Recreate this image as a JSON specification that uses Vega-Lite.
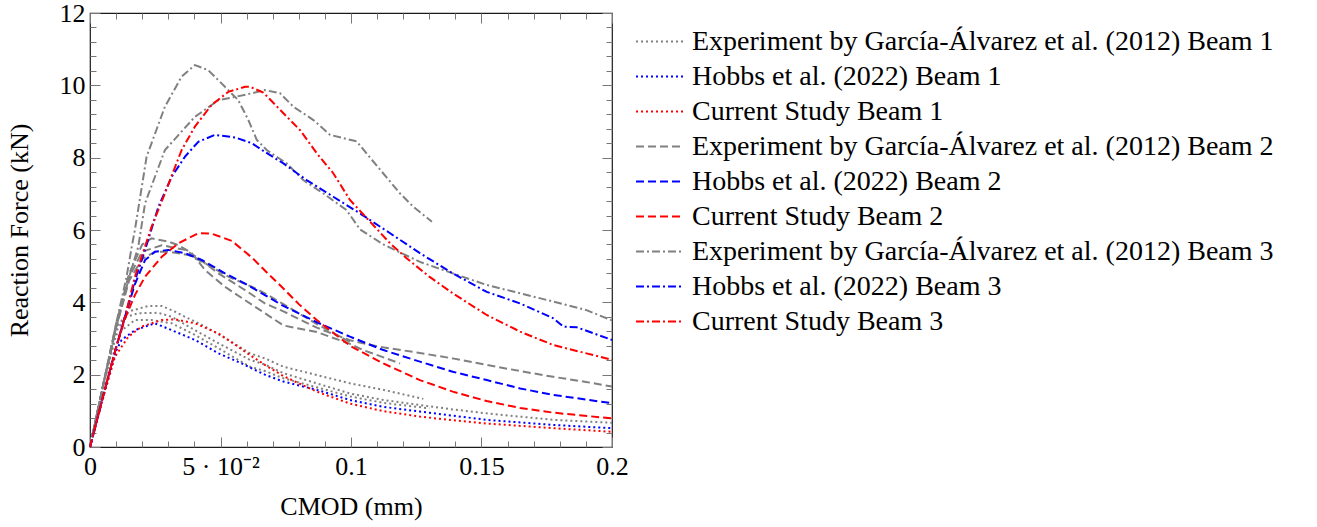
{
  "$schema": "https://vega.github.io/schema/vega-lite/v6.json",
  "width": 522,
  "height": 434,
  "autosize": {"type": "none"},
  "padding": {"left": 90, "top": 13, "right": 705, "bottom": 80},
  "background": "white",
  "config": {
    "view": {"stroke": "#1a1a1a", "strokeWidth": 1.2},
    "font": "Liberation Serif",
    "axis": {
      "labelFont": "Liberation Serif",
      "titleFont": "Liberation Serif",
      "labelFontSize": 26,
      "titleFontSize": 26,
      "titleFontWeight": "normal",
      "labelColor": "#000",
      "titleColor": "#000",
      "domain": false,
      "grid": false,
      "tickColor": "#777",
      "tickWidth": 1,
      "labelOverlap": false,
      "labelFlush": false
    },
    "legend": {
      "labelFont": "Liberation Serif",
      "labelFontSize": 28,
      "labelColor": "#000",
      "symbolType": "stroke",
      "symbolSize": 2304,
      "symbolStrokeWidth": 2,
      "labelOffset": 7,
      "rowPadding": 0,
      "clipHeight": 35,
      "labelLimit": 800
    }
  },
  "data": {
    "values": [
      {"k":"E1a","s":"E1","x":0,"y":0},{"k":"E1a","s":"E1","x":0.005,"y":1.7},{"k":"E1a","s":"E1","x":0.01,"y":3.3},{"k":"E1a","s":"E1","x":0.015,"y":3.75},{"k":"E1a","s":"E1","x":0.0223,"y":3.9},{"k":"E1a","s":"E1","x":0.0275,"y":3.9},{"k":"E1a","s":"E1","x":0.0326,"y":3.74},{"k":"E1a","s":"E1","x":0.0364,"y":3.6},{"k":"E1a","s":"E1","x":0.0441,"y":3.33},{"k":"E1a","s":"E1","x":0.053,"y":2.96},{"k":"E1a","s":"E1","x":0.0613,"y":2.59},{"k":"E1a","s":"E1","x":0.067,"y":2.45},{"k":"E1a","s":"E1","x":0.0741,"y":2.22},{"k":"E1a","s":"E1","x":0.0869,"y":1.99},{"k":"E1a","s":"E1","x":0.0996,"y":1.76},{"k":"E1a","s":"E1","x":0.1124,"y":1.58},{"k":"E1a","s":"E1","x":0.1277,"y":1.33},
      {"k":"E1b","s":"E1","x":0,"y":0},{"k":"E1b","s":"E1","x":0.005,"y":1.7},{"k":"E1b","s":"E1","x":0.01,"y":3.2},{"k":"E1b","s":"E1","x":0.014,"y":3.6},{"k":"E1b","s":"E1","x":0.0185,"y":3.7},{"k":"E1b","s":"E1","x":0.0262,"y":3.71},{"k":"E1b","s":"E1","x":0.0313,"y":3.6},{"k":"E1b","s":"E1","x":0.0402,"y":3.23},{"k":"E1b","s":"E1","x":0.0492,"y":2.87},{"k":"E1b","s":"E1","x":0.0613,"y":2.41},{"k":"E1b","s":"E1","x":0.067,"y":2.28},{"k":"E1b","s":"E1","x":0.0741,"y":2.04},{"k":"E1b","s":"E1","x":0.0869,"y":1.76},{"k":"E1b","s":"E1","x":0.0996,"y":1.48},{"k":"E1b","s":"E1","x":0.1124,"y":1.3},{"k":"E1b","s":"E1","x":0.1264,"y":1.16},{"k":"E1b","s":"E1","x":0.139,"y":1.04},{"k":"E1b","s":"E1","x":0.152,"y":0.93},{"k":"E1b","s":"E1","x":0.1775,"y":0.75},{"k":"E1b","s":"E1","x":0.2,"y":0.67},
      {"k":"E1c","s":"E1","x":0,"y":0},{"k":"E1c","s":"E1","x":0.005,"y":1.65},{"k":"E1c","s":"E1","x":0.01,"y":3.1},{"k":"E1c","s":"E1","x":0.0172,"y":3.51},{"k":"E1c","s":"E1","x":0.0236,"y":3.51},{"k":"E1c","s":"E1","x":0.0313,"y":3.42},{"k":"E1c","s":"E1","x":0.0402,"y":3.1},{"k":"E1c","s":"E1","x":0.0492,"y":2.73},{"k":"E1c","s":"E1","x":0.0613,"y":2.22},{"k":"E1c","s":"E1","x":0.067,"y":2.1},{"k":"E1c","s":"E1","x":0.0741,"y":1.9},{"k":"E1c","s":"E1","x":0.0869,"y":1.65},{"k":"E1c","s":"E1","x":0.0996,"y":1.4},{"k":"E1c","s":"E1","x":0.1124,"y":1.22},{"k":"E1c","s":"E1","x":0.13,"y":1.07},
      {"k":"H1","s":"H1","x":0,"y":0},{"k":"H1","s":"H1","x":0.005,"y":1.4},{"k":"H1","s":"H1","x":0.0096,"y":2.6},{"k":"H1","s":"H1","x":0.0121,"y":2.96},{"k":"H1","s":"H1","x":0.0172,"y":3.23},{"k":"H1","s":"H1","x":0.0249,"y":3.42},{"k":"H1","s":"H1","x":0.0313,"y":3.23},{"k":"H1","s":"H1","x":0.0402,"y":2.96},{"k":"H1","s":"H1","x":0.0492,"y":2.59},{"k":"H1","s":"H1","x":0.0581,"y":2.31},{"k":"H1","s":"H1","x":0.067,"y":2.0},{"k":"H1","s":"H1","x":0.0741,"y":1.81},{"k":"H1","s":"H1","x":0.0869,"y":1.58},{"k":"H1","s":"H1","x":0.0996,"y":1.3},{"k":"H1","s":"H1","x":0.1124,"y":1.11},{"k":"H1","s":"H1","x":0.1264,"y":0.98},{"k":"H1","s":"H1","x":0.152,"y":0.75},{"k":"H1","s":"H1","x":0.1775,"y":0.61},{"k":"H1","s":"H1","x":0.2,"y":0.52},
      {"k":"C1","s":"C1","x":0,"y":0},{"k":"C1","s":"C1","x":0.005,"y":1.35},{"k":"C1","s":"C1","x":0.0096,"y":2.5},{"k":"C1","s":"C1","x":0.0147,"y":3.05},{"k":"C1","s":"C1","x":0.0198,"y":3.33},{"k":"C1","s":"C1","x":0.0275,"y":3.51},{"k":"C1","s":"C1","x":0.0326,"y":3.53},{"k":"C1","s":"C1","x":0.0402,"y":3.42},{"k":"C1","s":"C1","x":0.0492,"y":3.14},{"k":"C1","s":"C1","x":0.0568,"y":2.77},{"k":"C1","s":"C1","x":0.0613,"y":2.54},{"k":"C1","s":"C1","x":0.067,"y":2.27},{"k":"C1","s":"C1","x":0.0741,"y":1.96},{"k":"C1","s":"C1","x":0.0869,"y":1.53},{"k":"C1","s":"C1","x":0.0996,"y":1.2},{"k":"C1","s":"C1","x":0.1124,"y":0.99},{"k":"C1","s":"C1","x":0.1264,"y":0.84},{"k":"C1","s":"C1","x":0.139,"y":0.74},{"k":"C1","s":"C1","x":0.152,"y":0.65},{"k":"C1","s":"C1","x":0.1775,"y":0.52},{"k":"C1","s":"C1","x":0.2,"y":0.42},
      {"k":"E2a","s":"E2","x":0,"y":0},{"k":"E2a","s":"E2","x":0.005,"y":1.7},{"k":"E2a","s":"E2","x":0.01,"y":3.4},{"k":"E2a","s":"E2","x":0.015,"y":4.8},{"k":"E2a","s":"E2","x":0.02,"y":5.6},{"k":"E2a","s":"E2","x":0.0236,"y":5.77},{"k":"E2a","s":"E2","x":0.03,"y":5.68},{"k":"E2a","s":"E2","x":0.0338,"y":5.58},{"k":"E2a","s":"E2","x":0.039,"y":5.36},{"k":"E2a","s":"E2","x":0.0441,"y":4.89},{"k":"E2a","s":"E2","x":0.0517,"y":4.43},{"k":"E2a","s":"E2","x":0.0594,"y":4.06},{"k":"E2a","s":"E2","x":0.067,"y":3.7},{"k":"E2a","s":"E2","x":0.0741,"y":3.36},{"k":"E2a","s":"E2","x":0.0869,"y":3.18},{"k":"E2a","s":"E2","x":0.0996,"y":2.85},{"k":"E2a","s":"E2","x":0.1047,"y":2.68},{"k":"E2a","s":"E2","x":0.1188,"y":2.31},
      {"k":"E2b","s":"E2","x":0,"y":0},{"k":"E2b","s":"E2","x":0.005,"y":1.7},{"k":"E2b","s":"E2","x":0.01,"y":3.35},{"k":"E2b","s":"E2","x":0.015,"y":4.7},{"k":"E2b","s":"E2","x":0.02,"y":5.4},{"k":"E2b","s":"E2","x":0.0275,"y":5.58},{"k":"E2b","s":"E2","x":0.0364,"y":5.45},{"k":"E2b","s":"E2","x":0.0415,"y":5.22},{"k":"E2b","s":"E2","x":0.0492,"y":4.8},{"k":"E2b","s":"E2","x":0.0594,"y":4.34},{"k":"E2b","s":"E2","x":0.067,"y":3.97},{"k":"E2b","s":"E2","x":0.0741,"y":3.75},{"k":"E2b","s":"E2","x":0.0869,"y":3.3},{"k":"E2b","s":"E2","x":0.0996,"y":2.95},{"k":"E2b","s":"E2","x":0.111,"y":2.77},{"k":"E2b","s":"E2","x":0.1264,"y":2.6},{"k":"E2b","s":"E2","x":0.139,"y":2.45},{"k":"E2b","s":"E2","x":0.152,"y":2.27},{"k":"E2b","s":"E2","x":0.1648,"y":2.1},{"k":"E2b","s":"E2","x":0.1775,"y":1.94},{"k":"E2b","s":"E2","x":0.19,"y":1.8},{"k":"E2b","s":"E2","x":0.2,"y":1.67},
      {"k":"E2c","s":"E2","x":0,"y":0},{"k":"E2c","s":"E2","x":0.005,"y":1.65},{"k":"E2c","s":"E2","x":0.01,"y":3.3},{"k":"E2c","s":"E2","x":0.015,"y":4.6},{"k":"E2c","s":"E2","x":0.02,"y":5.2},{"k":"E2c","s":"E2","x":0.025,"y":5.4},{"k":"E2c","s":"E2","x":0.03,"y":5.4},{"k":"E2c","s":"E2","x":0.0377,"y":5.31},{"k":"E2c","s":"E2","x":0.0441,"y":5.08},{"k":"E2c","s":"E2","x":0.053,"y":4.71},{"k":"E2c","s":"E2","x":0.062,"y":4.43},{"k":"E2c","s":"E2","x":0.067,"y":4.25},{"k":"E2c","s":"E2","x":0.0741,"y":3.95},{"k":"E2c","s":"E2","x":0.0869,"y":3.4},{"k":"E2c","s":"E2","x":0.0996,"y":2.9},
      {"k":"H2","s":"H2","x":0,"y":0},{"k":"H2","s":"H2","x":0.005,"y":1.4},{"k":"H2","s":"H2","x":0.01,"y":2.75},{"k":"H2","s":"H2","x":0.0134,"y":3.6},{"k":"H2","s":"H2","x":0.0172,"y":4.5},{"k":"H2","s":"H2","x":0.0211,"y":5.17},{"k":"H2","s":"H2","x":0.0249,"y":5.4},{"k":"H2","s":"H2","x":0.03,"y":5.45},{"k":"H2","s":"H2","x":0.0364,"y":5.36},{"k":"H2","s":"H2","x":0.0428,"y":5.17},{"k":"H2","s":"H2","x":0.0517,"y":4.8},{"k":"H2","s":"H2","x":0.0594,"y":4.52},{"k":"H2","s":"H2","x":0.067,"y":4.2},{"k":"H2","s":"H2","x":0.0741,"y":3.9},{"k":"H2","s":"H2","x":0.0869,"y":3.45},{"k":"H2","s":"H2","x":0.0996,"y":3.05},{"k":"H2","s":"H2","x":0.1124,"y":2.68},{"k":"H2","s":"H2","x":0.1264,"y":2.36},{"k":"H2","s":"H2","x":0.139,"y":2.08},{"k":"H2","s":"H2","x":0.152,"y":1.85},{"k":"H2","s":"H2","x":0.1648,"y":1.62},{"k":"H2","s":"H2","x":0.1775,"y":1.44},{"k":"H2","s":"H2","x":0.2,"y":1.21},
      {"k":"C2","s":"C2","x":0,"y":0},{"k":"C2","s":"C2","x":0.005,"y":1.4},{"k":"C2","s":"C2","x":0.01,"y":2.75},{"k":"C2","s":"C2","x":0.0134,"y":3.55},{"k":"C2","s":"C2","x":0.0172,"y":4.2},{"k":"C2","s":"C2","x":0.0211,"y":4.71},{"k":"C2","s":"C2","x":0.0275,"y":5.26},{"k":"C2","s":"C2","x":0.0338,"y":5.63},{"k":"C2","s":"C2","x":0.0415,"y":5.91},{"k":"C2","s":"C2","x":0.0466,"y":5.9},{"k":"C2","s":"C2","x":0.0543,"y":5.7},{"k":"C2","s":"C2","x":0.062,"y":5.24},{"k":"C2","s":"C2","x":0.067,"y":4.88},{"k":"C2","s":"C2","x":0.0741,"y":4.38},{"k":"C2","s":"C2","x":0.08,"y":3.95},{"k":"C2","s":"C2","x":0.0869,"y":3.51},{"k":"C2","s":"C2","x":0.0996,"y":2.8},{"k":"C2","s":"C2","x":0.1124,"y":2.31},{"k":"C2","s":"C2","x":0.1264,"y":1.85},{"k":"C2","s":"C2","x":0.139,"y":1.53},{"k":"C2","s":"C2","x":0.152,"y":1.27},{"k":"C2","s":"C2","x":0.1648,"y":1.08},{"k":"C2","s":"C2","x":0.1775,"y":0.95},{"k":"C2","s":"C2","x":0.2,"y":0.79},
      {"k":"E3a","s":"E3","x":0,"y":0},{"k":"E3a","s":"E3","x":0.005,"y":1.7},{"k":"E3a","s":"E3","x":0.01,"y":3.4},{"k":"E3a","s":"E3","x":0.014,"y":4.7},{"k":"E3a","s":"E3","x":0.016,"y":5.54},{"k":"E3a","s":"E3","x":0.0172,"y":6.0},{"k":"E3a","s":"E3","x":0.0217,"y":8.03},{"k":"E3a","s":"E3","x":0.0287,"y":9.41},{"k":"E3a","s":"E3","x":0.0351,"y":10.24},{"k":"E3a","s":"E3","x":0.0402,"y":10.56},{"k":"E3a","s":"E3","x":0.0453,"y":10.42},{"k":"E3a","s":"E3","x":0.0517,"y":9.96},{"k":"E3a","s":"E3","x":0.0568,"y":9.59},{"k":"E3a","s":"E3","x":0.0607,"y":9.04},{"k":"E3a","s":"E3","x":0.0639,"y":8.49},{"k":"E3a","s":"E3","x":0.0677,"y":8.21},{"k":"E3a","s":"E3","x":0.0754,"y":7.84},{"k":"E3a","s":"E3","x":0.0817,"y":7.38},{"k":"E3a","s":"E3","x":0.0894,"y":7.01},{"k":"E3a","s":"E3","x":0.0983,"y":6.55},{"k":"E3a","s":"E3","x":0.1034,"y":6.02},{"k":"E3a","s":"E3","x":0.1124,"y":5.6},{"k":"E3a","s":"E3","x":0.1188,"y":5.38},{"k":"E3a","s":"E3","x":0.1264,"y":5.12},{"k":"E3a","s":"E3","x":0.139,"y":4.8},{"k":"E3a","s":"E3","x":0.152,"y":4.48},{"k":"E3a","s":"E3","x":0.1648,"y":4.25},{"k":"E3a","s":"E3","x":0.1775,"y":4.02},{"k":"E3a","s":"E3","x":0.19,"y":3.79},{"k":"E3a","s":"E3","x":0.2,"y":3.5},
      {"k":"E3b","s":"E3","x":0,"y":0},{"k":"E3b","s":"E3","x":0.005,"y":1.7},{"k":"E3b","s":"E3","x":0.01,"y":3.3},{"k":"E3b","s":"E3","x":0.015,"y":4.7},{"k":"E3b","s":"E3","x":0.0185,"y":5.54},{"k":"E3b","s":"E3","x":0.0211,"y":6.74},{"k":"E3b","s":"E3","x":0.0287,"y":8.21},{"k":"E3b","s":"E3","x":0.0402,"y":9.13},{"k":"E3b","s":"E3","x":0.0492,"y":9.59},{"k":"E3b","s":"E3","x":0.0556,"y":9.68},{"k":"E3b","s":"E3","x":0.062,"y":9.78},{"k":"E3b","s":"E3","x":0.067,"y":9.87},{"k":"E3b","s":"E3","x":0.0728,"y":9.78},{"k":"E3b","s":"E3","x":0.0779,"y":9.41},{"k":"E3b","s":"E3","x":0.0856,"y":9.04},{"k":"E3b","s":"E3","x":0.092,"y":8.63},{"k":"E3b","s":"E3","x":0.1022,"y":8.45},{"k":"E3b","s":"E3","x":0.1073,"y":8.0},{"k":"E3b","s":"E3","x":0.1188,"y":7.01},{"k":"E3b","s":"E3","x":0.1239,"y":6.64},{"k":"E3b","s":"E3","x":0.131,"y":6.23},
      {"k":"H3","s":"H3","x":0,"y":0},{"k":"H3","s":"H3","x":0.005,"y":1.4},{"k":"H3","s":"H3","x":0.01,"y":2.75},{"k":"H3","s":"H3","x":0.0134,"y":3.6},{"k":"H3","s":"H3","x":0.0172,"y":4.6},{"k":"H3","s":"H3","x":0.0211,"y":5.45},{"k":"H3","s":"H3","x":0.0262,"y":6.64},{"k":"H3","s":"H3","x":0.0313,"y":7.47},{"k":"H3","s":"H3","x":0.0364,"y":8.03},{"k":"H3","s":"H3","x":0.0415,"y":8.44},{"k":"H3","s":"H3","x":0.0479,"y":8.63},{"k":"H3","s":"H3","x":0.0556,"y":8.56},{"k":"H3","s":"H3","x":0.062,"y":8.4},{"k":"H3","s":"H3","x":0.067,"y":8.16},{"k":"H3","s":"H3","x":0.0741,"y":7.84},{"k":"H3","s":"H3","x":0.083,"y":7.38},{"k":"H3","s":"H3","x":0.0932,"y":6.92},{"k":"H3","s":"H3","x":0.1034,"y":6.46},{"k":"H3","s":"H3","x":0.115,"y":5.91},{"k":"H3","s":"H3","x":0.1264,"y":5.36},{"k":"H3","s":"H3","x":0.139,"y":4.8},{"k":"H3","s":"H3","x":0.152,"y":4.29},{"k":"H3","s":"H3","x":0.1648,"y":3.97},{"k":"H3","s":"H3","x":0.1775,"y":3.56},{"k":"H3","s":"H3","x":0.1813,"y":3.33},{"k":"H3","s":"H3","x":0.1865,"y":3.31},{"k":"H3","s":"H3","x":0.2,"y":2.96},
      {"k":"C3","s":"C3","x":0,"y":0},{"k":"C3","s":"C3","x":0.005,"y":1.4},{"k":"C3","s":"C3","x":0.01,"y":2.75},{"k":"C3","s":"C3","x":0.0134,"y":3.6},{"k":"C3","s":"C3","x":0.0172,"y":4.7},{"k":"C3","s":"C3","x":0.0236,"y":6.09},{"k":"C3","s":"C3","x":0.0287,"y":7.01},{"k":"C3","s":"C3","x":0.0351,"y":8.21},{"k":"C3","s":"C3","x":0.0402,"y":8.86},{"k":"C3","s":"C3","x":0.0466,"y":9.46},{"k":"C3","s":"C3","x":0.053,"y":9.82},{"k":"C3","s":"C3","x":0.0594,"y":9.96},{"k":"C3","s":"C3","x":0.0613,"y":9.96},{"k":"C3","s":"C3","x":0.0664,"y":9.8},{"k":"C3","s":"C3","x":0.0741,"y":9.23},{"k":"C3","s":"C3","x":0.0805,"y":8.76},{"k":"C3","s":"C3","x":0.0869,"y":8.12},{"k":"C3","s":"C3","x":0.0932,"y":7.57},{"k":"C3","s":"C3","x":0.0996,"y":6.83},{"k":"C3","s":"C3","x":0.1073,"y":6.23},{"k":"C3","s":"C3","x":0.115,"y":5.63},{"k":"C3","s":"C3","x":0.1213,"y":5.22},{"k":"C3","s":"C3","x":0.13,"y":4.71},{"k":"C3","s":"C3","x":0.139,"y":4.25},{"k":"C3","s":"C3","x":0.152,"y":3.65},{"k":"C3","s":"C3","x":0.1648,"y":3.19},{"k":"C3","s":"C3","x":0.1775,"y":2.82},{"k":"C3","s":"C3","x":0.2,"y":2.41}
    ]
  },
  "resolve": {"axis": {"x": "independent", "y": "independent"}},
  "layer": [
    {
      "mark": {"type": "line", "strokeWidth": 2},
      "encoding": {
        "x": {
          "field": "x", "type": "quantitative",
          "scale": {"domain": [0, 0.2], "nice": false},
          "axis": {
            "orient": "bottom",
            "values": [0,0.01,0.02,0.03,0.04,0.05,0.06,0.07,0.08,0.09,0.1,0.11,0.12,0.13,0.14,0.15,0.16,0.17,0.18,0.19,0.2],
            "tickSize": {"condition": {"test": "abs(datum.value*20-round(datum.value*20))<1e-6", "value": -10}, "value": -6},
            "labelExpr": "abs(datum.value-0.05)<1e-6 ? '5 · 10⁻²' : (abs(datum.value*20-round(datum.value*20))<1e-6 ? format(datum.value,'~g') : '')",
            "labelPadding": 16,
            "title": "CMOD (mm)",
            "titlePadding": 10
          }
        },
        "y": {
          "field": "y", "type": "quantitative",
          "scale": {"domain": [0, 12], "nice": false},
          "axis": {
            "orient": "left",
            "values": [0,0.4,0.8,1.2,1.6,2,2.4,2.8,3.2,3.6,4,4.4,4.8,5.2,5.6,6,6.4,6.8,7.2,7.6,8,8.4,8.8,9.2,9.6,10,10.4,10.8,11.2,11.6,12],
            "tickSize": {"condition": {"test": "abs(datum.value/2-round(datum.value/2))<1e-6", "value": -10}, "value": -6},
            "labelExpr": "abs(datum.value/2-round(datum.value/2))<1e-6 ? format(datum.value,'~g') : ''",
            "labelPadding": 15,
            "title": "Reaction Force (kN)",
            "titlePadding": 27
          }
        },
        "color": {
          "field": "s", "type": "nominal",
          "scale": {"domain": ["E1","H1","C1","E2","H2","C2","E3","H3","C3"], "range": ["#808080","#0000ff","#ff0000","#808080","#0000ff","#ff0000","#808080","#0000ff","#ff0000"]},
          "legend": {
            "title": null, "orient": "none", "legendX": 545, "legendY": 11,
            "labelExpr": "({'E1':'Experiment by García-Álvarez et al. (2012) Beam 1','H1':'Hobbs et al. (2022) Beam 1','C1':'Current Study Beam 1','E2':'Experiment by García-Álvarez et al. (2012) Beam 2','H2':'Hobbs et al. (2022) Beam 2','C2':'Current Study Beam 2','E3':'Experiment by García-Álvarez et al. (2012) Beam 3','H3':'Hobbs et al. (2022) Beam 3','C3':'Current Study Beam 3'})[datum.label]"
          }
        },
        "strokeDash": {
          "field": "s", "type": "nominal",
          "scale": {"domain": ["E1","H1","C1","E2","H2","C2","E3","H3","C3"], "range": [[2,3],[2,3],[2,3],[8,4],[8,4],[8,4],[8,3,2,3],[8,3,2,3],[8,3,2,3]]},
          "legend": {
            "title": null, "orient": "none", "legendX": 545, "legendY": 11,
            "labelExpr": "({'E1':'Experiment by García-Álvarez et al. (2012) Beam 1','H1':'Hobbs et al. (2022) Beam 1','C1':'Current Study Beam 1','E2':'Experiment by García-Álvarez et al. (2012) Beam 2','H2':'Hobbs et al. (2022) Beam 2','C2':'Current Study Beam 2','E3':'Experiment by García-Álvarez et al. (2012) Beam 3','H3':'Hobbs et al. (2022) Beam 3','C3':'Current Study Beam 3'})[datum.label]"
          }
        },
        "detail": {"field": "k", "type": "nominal"}
      }
    },
    {
      "mark": {"type": "line", "opacity": 0},
      "encoding": {
        "x": {
          "field": "x", "type": "quantitative",
          "axis": {
            "orient": "top",
            "values": [0,0.01,0.02,0.03,0.04,0.05,0.06,0.07,0.08,0.09,0.1,0.11,0.12,0.13,0.14,0.15,0.16,0.17,0.18,0.19,0.2],
            "tickSize": {"condition": {"test": "abs(datum.value*20-round(datum.value*20))<1e-6", "value": -10}, "value": -6},
            "labels": false, "title": null
          }
        },
        "y": {
          "field": "y", "type": "quantitative",
          "axis": {
            "orient": "right",
            "values": [0,0.4,0.8,1.2,1.6,2,2.4,2.8,3.2,3.6,4,4.4,4.8,5.2,5.6,6,6.4,6.8,7.2,7.6,8,8.4,8.8,9.2,9.6,10,10.4,10.8,11.2,11.6,12],
            "tickSize": {"condition": {"test": "abs(datum.value/2-round(datum.value/2))<1e-6", "value": -10}, "value": -6},
            "labels": false, "title": null
          }
        },
        "detail": {"field": "k", "type": "nominal"}
      }
    }
  ]
}
